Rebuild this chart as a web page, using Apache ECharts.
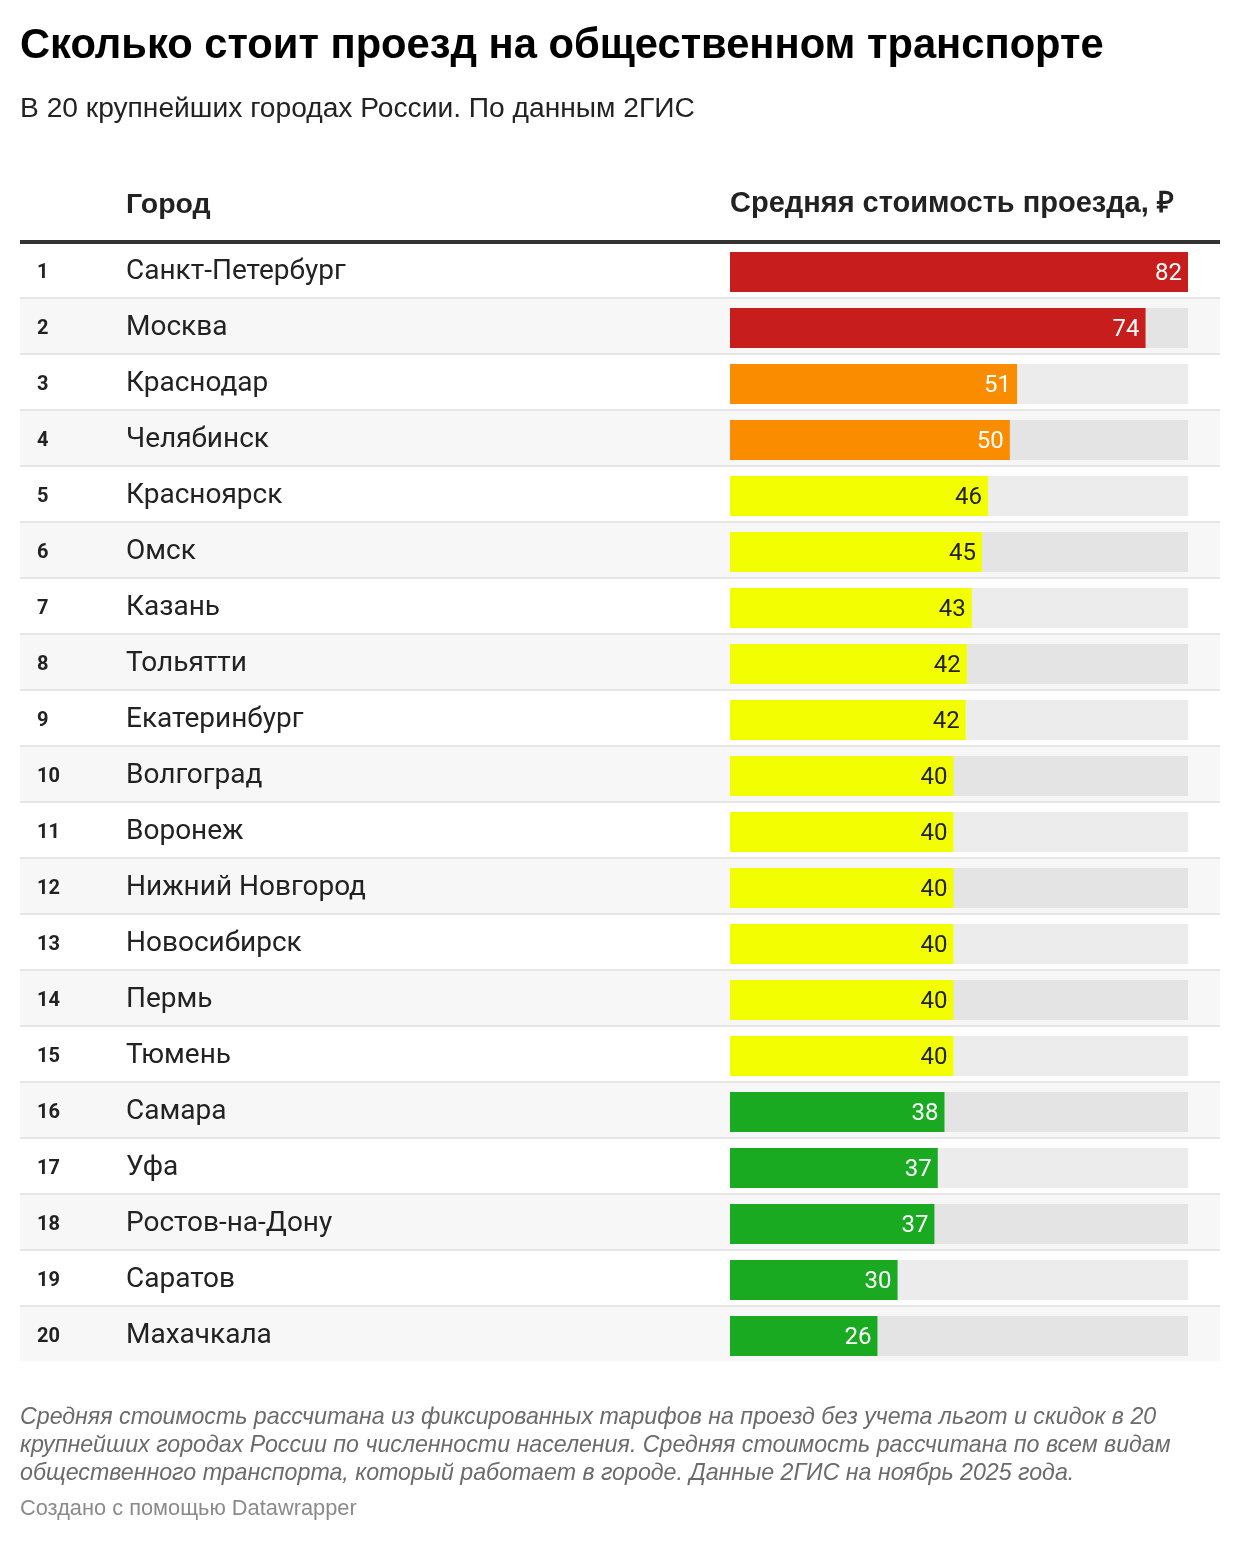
<!DOCTYPE html>
<html>
<head>
<meta charset="utf-8">
<script src="https://cdn.jsdelivr.net/npm/echarts@6/dist/echarts.min.js"></script>
<style>
html,body{margin:0;padding:0;background:#fff;}
#chart{width:1240px;height:1542px;}
</style>
</head>
<body>
<div id="chart"></div>
<script>
// ---- data ----
const titleText = 'Сколько стоит проезд на общественном транспорте';
const subtitleText = 'В 20 крупнейших городах России. По данным 2ГИС';
const colCityHeader = 'Город';
const colValueHeader = 'Средняя стоимость проезда, ₽';
const cities = ['Санкт-Петербург','Москва','Краснодар','Челябинск','Красноярск','Омск','Казань','Тольятти','Екатеринбург','Волгоград','Воронеж','Нижний Новгород','Новосибирск','Пермь','Тюмень','Самара','Уфа','Ростов-на-Дону','Саратов','Махачкала'];
const fares = [82, 74.4, 51.4, 50.1, 46.2, 45.1, 43.3, 42.4, 42.2, 40, 40, 40, 40, 40, 40, 38.4, 37.2, 36.6, 30, 26.4];
const noteLines = [
  'Средняя стоимость рассчитана из фиксированных тарифов на проезд без учета льгот и скидок в 20',
  'крупнейших городах России по численности населения. Средняя стоимость рассчитана по всем видам',
  'общественного транспорта, который работает в городе. Данные 2ГИС на ноябрь 2025 года.'
];
const creditText = 'Создано с помощью Datawrapper';

// ---- chart ----
const RED = '#c71e1d', ORANGE = '#fa8c00', YELLOW = '#f3ff00', GREEN = '#1aaa22';
const chart = echarts.init(document.getElementById('chart'), null, {renderer: 'canvas'});
const HEAD = 'Liberation Sans, Arial, sans-serif';
const BODY = 'Roboto, sans-serif';

const option = {
  backgroundColor: '#ffffff',
  animation: false,
  title: [
    {text: titleText, left: 20, top: 22, padding: 0,
     textStyle: {fontFamily: HEAD, fontWeight: 'bold', fontSize: 41.7, lineHeight: 50, color: '#000'}},
    {text: subtitleText, left: 20, top: 92, padding: 0,
     textStyle: {fontFamily: HEAD, fontWeight: 'normal', fontSize: 28.2, lineHeight: 34, color: '#222'}},
    {text: colCityHeader, left: 126, top: 188, padding: 0,
     textStyle: {fontFamily: HEAD, fontWeight: 'bold', fontSize: 28.5, lineHeight: 34, color: '#222'}},
    {text: colValueHeader, left: 730, top: 187, padding: 0,
     textStyle: {fontFamily: HEAD, fontWeight: 'bold', fontSize: 29, lineHeight: 34, color: '#222'}},
    {text: noteLines.join('\n'), left: 20, top: 1404, padding: 0,
     textStyle: {fontFamily: HEAD, fontStyle: 'italic', fontWeight: 'normal', fontSize: 23.2, lineHeight: 28, color: '#6b6b6b'}},
    {text: creditText, left: 20, top: 1496, padding: 0,
     textStyle: {fontFamily: HEAD, fontWeight: 'normal', fontSize: 21.8, lineHeight: 26, color: '#8a8a8a'}}
  ],
  visualMap: {
    show: false, type: 'piecewise', seriesIndex: 1, dimension: 0,
    pieces: [
      {min: 60, color: RED},
      {min: 48, max: 60, color: ORANGE},
      {min: 39, max: 48, color: YELLOW},
      {max: 39, color: GREEN}
    ]
  },
  grid: [
    {left: 20, right: 20, top: 242, height: 1120, containLabel: false},
    {left: 730, width: 458, top: 244, height: 1120, containLabel: false}
  ],
  xAxis: [
    {gridIndex: 0, type: 'value', min: 0, max: 1, position: 'top',
     axisLine: {show: true, lineStyle: {color: '#333', width: 4, cap: 'butt'}},
     axisTick: {show: false}, axisLabel: {show: false}, splitLine: {show: false}},
    {gridIndex: 1, type: 'value', min: 0, max: 'dataMax', show: false},
    {gridIndex: 0, type: 'value', min: 0, max: 1, position: 'bottom',
     axisLine: {show: true, lineStyle: {color: '#ffffff', width: 2, cap: 'square'}},
     axisTick: {show: false}, axisLabel: {show: false}, splitLine: {show: false}}
  ],
  yAxis: [
    {gridIndex: 0, type: 'category', data: cities, inverse: true,
     axisLine: {show: false}, axisTick: {show: false}, axisLabel: {show: false},
     splitLine: {show: true, interval: 0, lineStyle: {color: '#e6e6e6', width: 2}}},
    {gridIndex: 1, type: 'category', data: cities, inverse: true, show: false}
  ],
  series: [
    {
      type: 'bar', xAxisIndex: 0, yAxisIndex: 0, z: -1, silent: true,
      barCategoryGap: 0, barWidth: '100%',
      data: cities.map((c, i) => ({value: 1, itemStyle: {color: i % 2 ? '#f7f7f7' : '#ffffff'}})),
      label: {
        show: true, position: 'insideLeft', distance: 17,
        formatter: p => '{r|' + (p.dataIndex + 1) + '}{c|' + cities[p.dataIndex] + '}',
        rich: {
          r: {fontFamily: BODY, fontWeight: 'bold', fontSize: 20, color: '#222', width: 89, padding: [5, 0, 0, 0]},
          c: {fontFamily: BODY, fontWeight: 'normal', fontSize: 28, color: '#222', padding: [3, 0, 0, 0]}
        }
      }
    },
    {
      type: 'bar', xAxisIndex: 1, yAxisIndex: 1, barWidth: 40,
      data: fares,
      showBackground: true,
      backgroundStyle: {color: 'rgba(0,0,0,0.075)'},
      label: {
        show: true, position: 'insideRight', distance: 6,
        formatter: p => (p.value >= 39 && p.value < 48 ? '{d|' : '{w|') + Math.round(p.value) + '}',
        rich: {
          d: {fontFamily: BODY, fontSize: 24, color: '#222', padding: [3, 0, 0, 0]},
          w: {fontFamily: BODY, fontSize: 24, color: '#ffffff', padding: [3, 0, 0, 0]}
        }
      }
    }
  ]
};
chart.setOption(option);
</script>
</body>
</html>
